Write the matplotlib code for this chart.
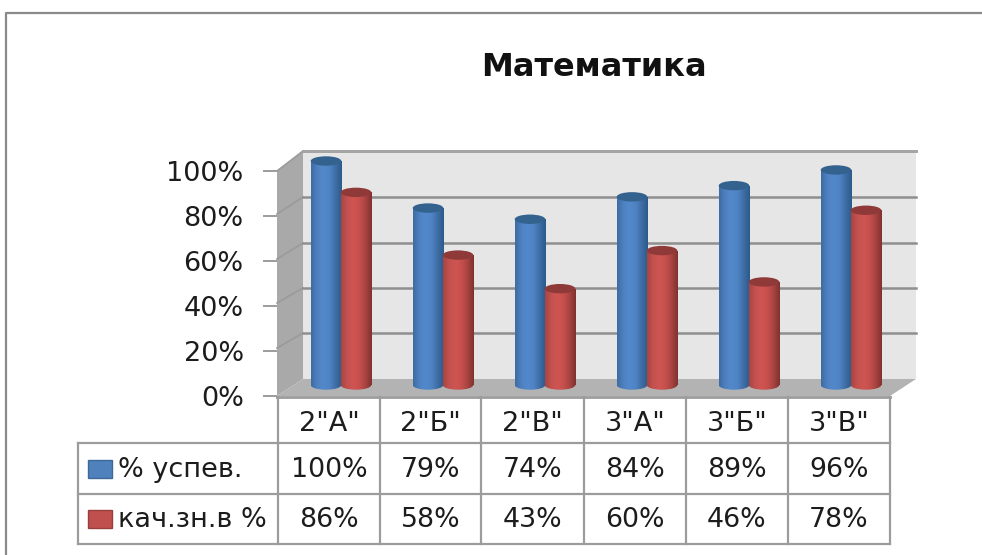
import numpy as np
import matplotlib.pyplot as plt
from matplotlib.colors import LinearSegmentedColormap
from matplotlib.patches import Ellipse, Polygon, Rectangle
from matplotlib.ticker import PercentFormatter

categories = ['2"А"', '2"Б"', '2"В"', '3"А"', '3"Б"', '3"В"']
series_names = ['% успев.', 'кач.зн.в %']
uspev = [100, 79, 74, 84, 89, 96]
kach = [86, 58, 43, 60, 46, 78]
y_ticks = [0, 20, 40, 60, 80, 100]

W, H = 982, 555
TXT = '#1c1c1c'
GRID = '#8f8f8f'
LINE = '#9c9c9c'
plt.rcParams['font.family'] = ['DejaVu Sans']


def box(x0, y_top, x1, y_bot):
    # pixel box (from top left) to figure fractions
    return [x0 / W, 1 - y_bot / H, (x1 - x0) / W, (y_bot - y_top) / H]


fig = plt.figure(figsize=(W / 100, H / 100), dpi=100, facecolor='white')

# everything that is not data: frame, walls, table grid
bg = fig.add_axes([0, 0, 1, 1])
bg.set_xlim(0, W)
bg.set_ylim(H, 0)
bg.axis('off')

bg.plot([6, 6, W], [H, 13, 13], color='#8a8a8a', lw=1.6)

front_y = [396, 348, 303, 259, 214, 171]
back_y = [379, 333, 288, 243, 197, 151]
fx0, fx1, bx0, bx1 = 277, 890, 303, 916

bg.add_patch(Polygon([(bx0, 151), (bx1, 151), (bx1, 379), (bx0, 379)], fc='#e6e6e6', ec='none'))
bg.add_patch(Polygon([(fx0, 171), (bx0, 151), (bx0, 379), (fx0, 396)], fc='#a9a9a9', ec='none'))
bg.add_patch(Polygon([(fx0, 396), (bx0, 379), (bx1, 379), (fx1, 396)], fc='#b3b3b3', ec='none'))
for fy, by in zip(front_y[1:], back_y[1:]):
    bg.plot([fx0, bx0], [fy, by], color='#9a9a9a', lw=1.2)
    bg.plot([bx0, bx1], [by, by], color=GRID, lw=1.8)
bg.plot([bx0, bx1], [151, 151], color='#a5a5a5', lw=2)
bg.plot([fx0, fx1], [397, 397], color=LINE, lw=2)

# table
col_x = [278, 380, 481, 584, 686, 788, 890]
row_y = [443, 494, 544]
for x in col_x:
    bg.plot([x, x], [397, 544], color=LINE, lw=1.6)
bg.plot([78, 78], [443, 544], color=LINE, lw=1.6)
for y in row_y:
    bg.plot([78, 890], [y, y], color=LINE, lw=1.6)

for i, c in enumerate(categories):
    cx = (col_x[i] + col_x[i + 1]) / 2
    bg.text(cx, 424, c, ha='center', va='center', fontsize=19.5, color=TXT)
    bg.text(cx, 470, f'{uspev[i]}%', ha='center', va='center', fontsize=19.3, color=TXT)
    bg.text(cx, 520, f'{kach[i]}%', ha='center', va='center', fontsize=19.3, color=TXT)

bg.add_patch(Rectangle((88, 460), 24, 18, fc='#4f81bd', ec='#3f6797', lw=1))
bg.add_patch(Rectangle((88, 510), 24, 18, fc='#c0504d', ec='#963f3d', lw=1))
bg.text(118, 470, series_names[0], ha='left', va='center', fontsize=19.5, color=TXT)
bg.text(118, 520, series_names[1], ha='left', va='center', fontsize=19.5, color=TXT)

fig.text(594 / W, 1 - 67 / H, 'Математика', ha='center', va='center',
         fontsize=23, fontweight='bold', color='#111111')

# value axis on the front edge of the side wall
ya = fig.add_axes(box(277, 171, 278, 396))
ya.patch.set_alpha(0)
ya.set_ylim(0, 100)
ya.set_yticks(y_ticks)
ya.yaxis.set_major_formatter(PercentFormatter(100, decimals=0))
ya.tick_params(axis='y', length=10, width=1.4, color=LINE, pad=14, labelsize=19.5, labelcolor=TXT)
ya.set_xticks([])
for s in ya.spines.values():
    s.set_visible(False)

# bars live on their own axes, set back from the front edge
ax = fig.add_axes(box(290, 161, 902, 385))
ax.patch.set_alpha(0)
ax.axis('off')
ax.set_xlim(-0.5, 5.5)
ax.set_ylim(0, 100)

blue_cm = LinearSegmentedColormap.from_list('b', ['#3d6ca3', '#4f81c0', '#5289cc', '#4f84c4', '#3f6ea6', '#2c5a8c'])
red_cm = LinearSegmentedColormap.from_list('r', ['#a84442', '#c4524f', '#cf5552', '#c6504d', '#a84341', '#803230'])
ramp = np.linspace(0, 1, 64).reshape(1, -1)
bar_w = 0.3
cap_h = 4.2


def cylinders(values, xs, cmap, cap_color):
    for x, v in zip(xs, values):
        foot = Ellipse((x, 0), bar_w, cap_h, fc='none', ec='none', zorder=2, clip_on=False)
        ax.add_patch(foot)
        foot_im = ax.imshow(ramp, cmap=cmap, aspect='auto', zorder=2,
                            extent=[x - bar_w / 2, x + bar_w / 2, -cap_h / 2, 0])
        foot_im.set_clip_path(foot)
        # foot hangs below the axes, so the image may not stop at the axes box
        foot_im.set_clip_box(fig.bbox)
        bar = ax.bar(x, v, width=bar_w, color=cmap(0.5), zorder=2)[0]
        im = ax.imshow(ramp, cmap=cmap, aspect='auto', zorder=2,
                       extent=[x - bar_w / 2, x + bar_w / 2, 0, v])
        im.set_clip_path(bar)
        top = Ellipse((x, v), bar_w, cap_h, fc=cap_color, ec='none', zorder=2, clip_on=False)
        ax.add_patch(top)


pos = np.arange(len(categories))
cylinders(uspev, pos - 0.147, blue_cm, '#34628f')
cylinders(kach, pos + 0.147, red_cm, '#8f3a38')
ax.set_xlim(-0.5, 5.5)
ax.set_ylim(0, 100)

fig.savefig('out.png', dpi=100)
